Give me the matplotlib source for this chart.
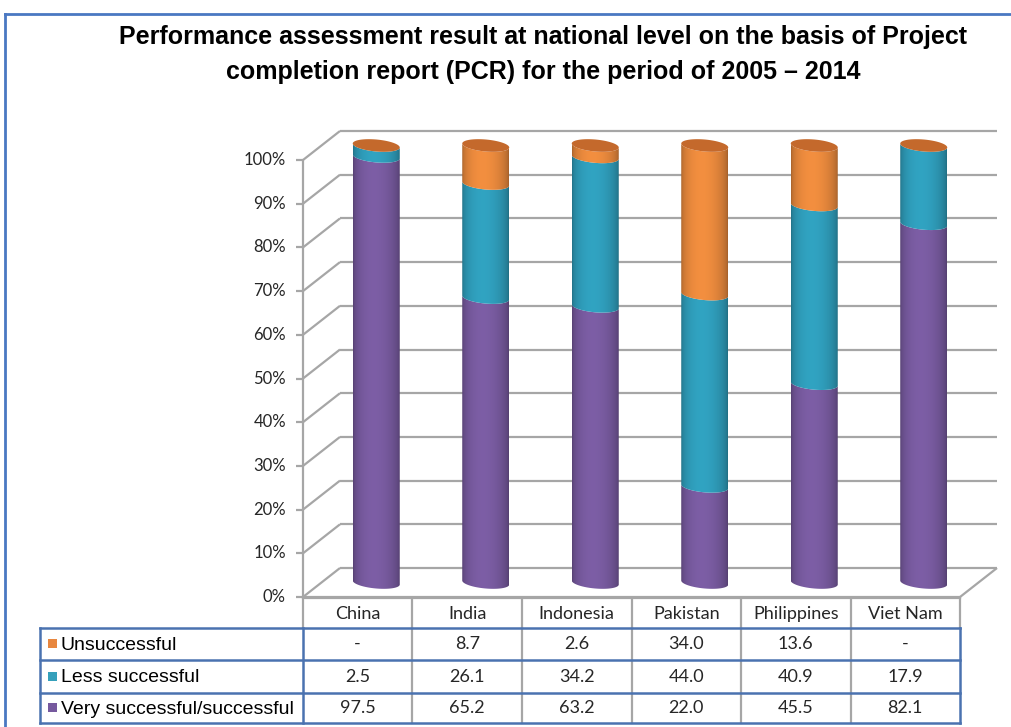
import numpy as np
import matplotlib.pyplot as plt
from matplotlib.path import Path
from matplotlib.patches import PathPatch, Rectangle
from matplotlib.lines import Line2D
from matplotlib import font_manager

countries = ['China', 'India', 'Indonesia', 'Pakistan', 'Philippines', 'Viet Nam']
unsuccessful = [0.0, 8.7, 2.6, 34.0, 13.6, 0.0]
less_successful = [2.5, 26.1, 34.2, 44.0, 40.9, 17.9]
very_successful = [97.5, 65.2, 63.2, 22.0, 45.5, 82.1]
series_names = ['Unsuccessful', 'Less successful', 'Very successful/successful']
y_ticks = list(range(0, 101, 10))

title_lines = ['Performance assessment result at national level on the basis of Project',
               'completion report (PCR) for the period of 2005 \u2013 2014']

# body colour (mid tone) and cap colour for each series
purple = np.array([122, 92, 162]) / 255
teal = np.array([48, 160, 190]) / 255
orange = np.array([238, 140, 62]) / 255
cap_cols = {'very': '#6a4f90', 'less': '#2f8fab', 'un': '#c4692c'}
legend_cols = ['#E8873F', '#35A0BB', '#76599E']

names = {f.name for f in font_manager.fontManager.ttflist}
title_font = 'Liberation Sans Narrow' if 'Liberation Sans Narrow' in names else 'Liberation Sans'
num_font = 'Lato'
lab_font = 'Liberation Sans'

W, H = 1012, 727
fig = plt.figure(figsize=(W / 100, H / 100), dpi=100)
fig.patch.set_facecolor('white')


def box(x0, y0, x1, y1):
    return [x0 / W, 1 - y1 / H, (x1 - x0) / W, (y1 - y0) / H]


# outer frame
fig.add_artist(Line2D([5 / W, 5 / W], [0, 1 - 14 / H], color='#4a78c2', lw=2))
fig.add_artist(Line2D([5 / W, 1], [1 - 14 / H, 1 - 14 / H], color='#4a78c2', lw=2))

for k, line in enumerate(title_lines):
    fig.text(543 / W, 1 - (37 + 35 * k) / H, line, ha='center', va='center',
             fontsize=18, fontweight='bold', family=title_font, color='black')

# chart area: x in category units, y in percent
PX_CAT = 109.5
PX_PCT = 4.37
ax = fig.add_axes(box(303, 125, 1000, 597))
ax.axis('off')
x_lo, x_hi = -0.5, -0.5 + 697 / PX_CAT
ax.set_xlim(x_lo, x_hi)
ax.set_ylim(0, 472 / PX_PCT)
DX = 37 / PX_CAT
DY = 29 / PX_PCT
n = len(countries)
grid_kw = dict(color='#a6a6a6', lw=1.6, solid_capstyle='butt', clip_on=False)

for p in y_ticks:
    ax.plot([-0.5 + DX, n - 0.5 + DX], [p + DY, p + DY], **grid_kw)
    ax.plot([-0.5, -0.5 + DX], [p, p + DY], **grid_kw)
    ax.plot([-0.5 - 7 / PX_CAT, -0.5], [p, p], **grid_kw)
    ax.text(-0.5 - 17 / PX_CAT, p, f'{p}%', ha='right', va='center',
            fontsize=12, family=num_font, color='#262626')
ax.plot([-0.5, -0.5], [0, 100], **grid_kw)
ax.plot([-0.5, n - 0.5], [0, 0], **grid_kw)
ax.plot([n - 0.5, n - 0.5 + DX], [0, DY], **grid_kw)

R = 23.5 / PX_CAT
B = 6.0 / PX_PCT
TILT = 2.0 / PX_PCT


def arc(cx, yc, t):
    return np.column_stack([cx + R * np.cos(t), yc + B * np.sin(t) - TILT * np.cos(t)])


def shade(base, dark=0.66):
    u = np.linspace(0, 1, 200)
    f = dark + (1.02 - dark) * np.sin(np.pi * u ** 0.85) ** 0.5
    img = np.clip(base[None, :] * f[:, None], 0, 1)
    return img[None, :, :]


def segment(cx, y0, y1, base):
    t_top = np.linspace(np.pi, 2 * np.pi, 60)
    t_bot = np.linspace(0, -np.pi, 60)
    pts = np.vstack([[cx - R, y0 + TILT], arc(cx, y1, t_top), arc(cx, y0, t_bot)])
    path = Path(np.vstack([pts, pts[:1]]), closed=True)
    clip = PathPatch(path, transform=ax.transData, facecolor='none', edgecolor='none')
    ax.add_patch(clip)
    im = ax.imshow(shade(base), extent=[cx - R, cx + R, y0 - B - 1, y1 + B + 1],
                   aspect='auto', origin='lower', zorder=3, interpolation='bilinear')
    im.set_clip_path(clip)


def cap(cx, yc, col):
    t = np.linspace(0, 2 * np.pi, 120)
    ax.add_patch(PathPatch(Path(arc(cx, yc, t)), facecolor=col, edgecolor='none', zorder=3))


stack = [(very_successful, purple, cap_cols['very']),
         (less_successful, teal, cap_cols['less']),
         (unsuccessful, orange, cap_cols['un'])]
for i in range(n):
    cx = i + DX / 2
    bottom = DY / 2
    for vals, base, ccol in stack:
        v = vals[i]
        if v > 0:
            segment(cx, bottom, bottom + v, base)
        bottom += v
    cap(cx, bottom, cap_cols['un'])

ax.set_xlim(x_lo, x_hi)
ax.set_ylim(0, 472 / PX_PCT)

# data table below the chart
tax = fig.add_axes(box(40, 598, 1000, 723))
tax.axis('off')
left = -0.5 - 263 / PX_CAT
tax.set_xlim(left, x_hi)
tax.set_ylim(125, 0)
row_edges = [0, 30, 62, 95, 125]
blue = '#4a72b0'
gray = '#a6a6a6'
tkw = dict(clip_on=False, solid_capstyle='projecting')

tax.plot([-0.5, n - 0.5], [0, 0], color=gray, lw=1.6, **tkw)
for k in range(n + 1):
    tax.plot([-0.5 + k, -0.5 + k], [0, row_edges[1]], color=gray, lw=1.6, **tkw)
for k in range(1, n):
    tax.plot([-0.5 + k, -0.5 + k], [row_edges[1], row_edges[-1]], color=gray, lw=1.6, **tkw)
for y in row_edges[1:]:
    tax.plot([left, n - 0.5], [y, y], color=blue, lw=1.8, **tkw)
for x in [left, -0.5, n - 0.5]:
    tax.plot([x, x], [row_edges[1], row_edges[-1]], color=blue, lw=1.8, **tkw)

for i, c in enumerate(countries):
    tax.text(i, 16, c, ha='center', va='center', fontsize=13, family=num_font, color='#262626')

rows = [unsuccessful, less_successful, very_successful]
for r, (vals, name, col) in enumerate(zip(rows, series_names, legend_cols)):
    yc = (row_edges[r + 1] + row_edges[r + 2]) / 2
    tax.add_patch(Rectangle((left + 8 / PX_CAT, yc - 5), 9 / PX_CAT, 9,
                            facecolor=col, edgecolor='none'))
    tax.text(left + 21 / PX_CAT, yc + 1, name, ha='left', va='center',
             fontsize=14, family=lab_font, color='black')
    for i, v in enumerate(vals):
        tax.text(i, yc, '-' if v == 0 else f'{v:.1f}', ha='center', va='center',
                 fontsize=13, family=num_font, color='#262626')

fig.savefig('out.png', dpi=100, facecolor='white')
